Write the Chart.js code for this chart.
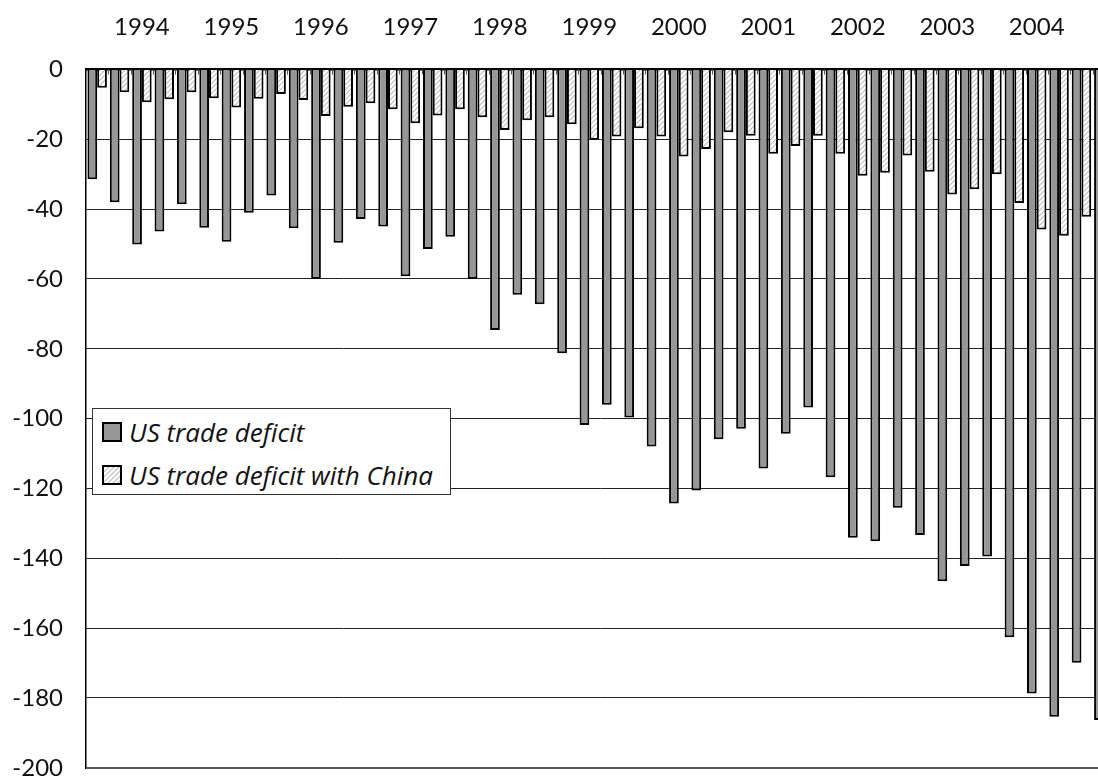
<!DOCTYPE html>
<html>
<head>
<meta charset="utf-8">
<script src="https://cdn.jsdelivr.net/npm/chart.js@4/dist/chart.umd.min.js"></script>
<style>
  html, body { margin: 0; padding: 0; background: #fff; overflow: hidden; }
  #clip { position: relative; width: 1098px; height: 778px; overflow: hidden; }
  #inner { position: absolute; left: 0; top: 0; width: 1116px; height: 778px; }
  #legend {
    position: absolute; left: 92px; top: 408px; width: 357px; height: 85px;
    border: 1px solid #333; background: #fff; box-sizing: content-box;
    font-family: "Open Sans", Lato, sans-serif; font-style: italic; font-size: 26px; color: #111;
  }
  .row { position: absolute; left: 9px; height: 30px; display: flex; align-items: center; white-space: nowrap; }
  .sw { width: 16px; height: 16px; border: 2px solid #000; margin-right: 7px; flex: none; }
</style>
</head>
<body>
<div id="clip">
  <div id="inner"><canvas id="c"></canvas></div>
  <div id="legend"></div>
</div>
<script>
// Quarterly categories, 1993 Q3 .. 2004 Q4
const quarters = [
  "1993 Q3","1993 Q4",
  "1994 Q1","1994 Q2","1994 Q3","1994 Q4",
  "1995 Q1","1995 Q2","1995 Q3","1995 Q4",
  "1996 Q1","1996 Q2","1996 Q3","1996 Q4",
  "1997 Q1","1997 Q2","1997 Q3","1997 Q4",
  "1998 Q1","1998 Q2","1998 Q3","1998 Q4",
  "1999 Q1","1999 Q2","1999 Q3","1999 Q4",
  "2000 Q1","2000 Q2","2000 Q3","2000 Q4",
  "2001 Q1","2001 Q2","2001 Q3","2001 Q4",
  "2002 Q1","2002 Q2","2002 Q3","2002 Q4",
  "2003 Q1","2003 Q2","2003 Q3","2003 Q4",
  "2004 Q1","2004 Q2","2004 Q3","2004 Q4"
];

const usTradeDeficit = [
  -31.4, -38.0,
  -50.1, -46.4, -38.6, -45.3,
  -49.3, -41.0, -36.1, -45.5,
  -59.9, -49.6, -42.8, -45.0,
  -59.2, -51.4, -47.9, -59.9,
  -74.6, -64.5, -67.2, -81.3,
  -101.8, -96.0, -99.7, -108.0,
  -124.3, -120.6, -105.9, -102.9,
  -114.3, -104.3, -96.8, -116.8,
  -134.1, -135.1, -125.5, -133.3,
  -146.6, -142.2, -139.5, -162.6,
  -178.7, -185.4, -169.9, -186.3
];

const usTradeDeficitChina = [
  -5.2, -6.5,
  -9.4, -8.5, -6.5, -8.2,
  -10.9, -8.4, -7.0, -8.7,
  -13.3, -10.7, -9.7, -11.4,
  -15.4, -13.2, -11.4, -13.7,
  -17.3, -14.5, -13.7, -15.7,
  -20.1, -19.2, -16.8, -19.2,
  -24.9, -22.8, -18.0, -19.0,
  -24.1, -21.9, -19.0, -24.1,
  -30.4, -29.6, -24.6, -29.3,
  -35.8, -34.3, -30.0, -38.2,
  -45.8, -47.6, -42.2, -46.0
];

const seriesLabels = ["US trade deficit", "US trade deficit with China"];
const yMin = -200, yMax = 0, yStep = 20;

// hatch pattern
const pc = document.createElement('canvas');
pc.width = 5; pc.height = 5;
const pctx = pc.getContext('2d');
pctx.fillStyle = '#ffffff';
pctx.fillRect(0, 0, 5, 5);
pctx.strokeStyle = '#bcbcbc';
pctx.lineWidth = 1.1;
pctx.beginPath();
pctx.moveTo(-1, 6); pctx.lineTo(6, -1);
pctx.moveTo(-1, 1); pctx.lineTo(1, -1);
pctx.moveTo(4, 6); pctx.lineTo(6, 4);
pctx.stroke();
const ctx = document.getElementById('c').getContext('2d');
const hatch = ctx.createPattern(pc, 'repeat');

const fontFam = 'Lato, "Open Sans", sans-serif';

const boundaryTicks = {
  id: 'boundaryTicks',
  afterDatasetsDraw(chart) {
    const xs = chart.scales.x;
    const n = chart.data.labels.length;
    const c = chart.ctx;
    c.save();
    c.strokeStyle = '#555';
    c.lineWidth = 1;
    c.beginPath();
    for (let i = 1; i < n; i++) {
      const x = Math.round((xs.getPixelForValue(i - 1) + xs.getPixelForValue(i)) / 2) + 0.5;
      c.moveTo(x, xs.bottom);
      c.lineTo(x, xs.bottom + 5);
    }
    c.stroke();
    c.restore();
  }
};

const chart = new Chart(ctx, {
  type: 'bar',
  data: {
    labels: quarters,
    datasets: [
      {
        label: seriesLabels[0],
        data: usTradeDeficit,
        backgroundColor: '#969696',
        borderColor: '#000',
        borderWidth: 2,
        categoryPercentage: 0.87,
        barPercentage: 1.0
      },
      {
        label: seriesLabels[1],
        data: usTradeDeficitChina,
        backgroundColor: hatch,
        borderColor: '#000',
        borderWidth: 2,
        categoryPercentage: 0.87,
        barPercentage: 1.0
      }
    ]
  },
  options: {
    responsive: true,
    maintainAspectRatio: false,
    animation: false,
    layout: { padding: { left: 0, top: 0, right: 1, bottom: 0 } },
    plugins: { legend: { display: false }, tooltip: { enabled: false } },
    scales: {
      x: {
        position: 'top',
        offset: true,
        grid: { display: false, drawTicks: true, tickLength: 28 },
        border: { display: true, color: '#000', width: 2.5 },
        ticks: {
          autoSkip: false,
          maxRotation: 0,
          minRotation: 0,
          padding: 0,
          color: '#111',
          font: { family: fontFam, size: 24, lineHeight: 1.2 },
          callback: function (value) {
            const lab = this.getLabelForValue(value);
            return lab.endsWith('Q1') ? lab.slice(0, 4) : '';
          }
        },
        afterFit: s => { s.height = 69.5; }
      },
      y: {
        min: yMin,
        max: yMax,
        grid: {
          drawTicks: true,
          tickLength: 23,
          tickColor: 'rgba(0,0,0,0)',
          color: ctx => ctx.tick && ctx.tick.value === yMin ? '#555' : '#222',
          lineWidth: ctx => ctx.tick && ctx.tick.value === yMin ? 2 : 1
        },
        border: { display: true, color: '#000', width: 1.5 },
        ticks: {
          stepSize: yStep,
          padding: 0,
          color: '#111',
          font: { family: fontFam, size: 24, lineHeight: 0.85 }
        },
        afterFit: s => { s.width = 86; }
      }
    }
  },
  plugins: [boundaryTicks]
});

// HTML legend built from datasets
const legend = document.getElementById('legend');
const rowTops = [8, 51];
chart.data.datasets.forEach((ds, i) => {
  const row = document.createElement('div');
  row.className = 'row';
  row.style.top = rowTops[i] + 'px';
  const sw = document.createElement('span');
  sw.className = 'sw';
  if (i === 0) sw.style.background = ds.backgroundColor;
  else sw.style.backgroundImage = 'url(' + pc.toDataURL() + ')';
  const tx = document.createElement('span');
  tx.textContent = ds.label;
  row.appendChild(sw);
  row.appendChild(tx);
  legend.appendChild(row);
});
</script>
</body>
</html>
